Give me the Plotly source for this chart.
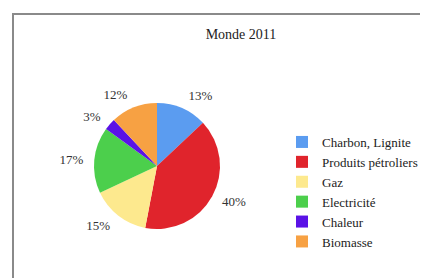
import plotly.graph_objects as go

labels = ["Charbon, Lignite", "Produits pétroliers", "Gaz", "Electricité", "Chaleur", "Biomasse"]
values = [13, 40, 15, 17, 3, 12]
colors = ["#5b9cf0", "#e0242c", "#fde98e", "#4ccf4c", "#5a12e6", "#f7a143"]
title = "Monde 2011"

# page has an 8px body margin; figure is sized to fit the window
OFF = 8
W, H = 420, 270
cx, cy, r = 157 - OFF, 166 - OFF, 63
rl = 70  # radius used for placing the outside percentage labels


def dom(rad):
    return dict(x=[(cx - rad) / W, (cx + rad) / W], y=[(H - cy - rad) / H, (H - cy + rad) / H])


fig = go.Figure()
fig.add_trace(go.Pie(
    labels=labels,
    values=values,
    sort=False,
    direction="clockwise",
    rotation=0,
    marker=dict(colors=colors, line=dict(width=0)),
    textinfo="none",
    domain=dom(r),
    hoverinfo="label+percent",
))
fig.add_trace(go.Pie(
    labels=labels,
    values=values,
    sort=False,
    direction="clockwise",
    rotation=0,
    marker=dict(colors=["rgba(0,0,0,0)"] * len(values), line=dict(width=0)),
    textposition="outside",
    texttemplate="%{value}%",
    textfont=dict(family="Liberation Serif", size=13, color="#333333"),
    domain=dom(rl),
    hoverinfo="skip",
    showlegend=False,
))

fig.update_layout(
    width=W, height=H,
    margin=dict(l=0, r=0, t=0, b=0, autoexpand=False),
    paper_bgcolor="white",
    plot_bgcolor="white",
    title=dict(text=title, x=(241 - OFF) / W, xanchor="center", y=1 - (34 - OFF) / H, yanchor="middle",
               font=dict(family="Liberation Serif", size=14, color="#222222")),
    showlegend=True,
    legend=dict(x=(322 - OFF - 40) / W, xanchor="left", y=1 - 119 / H, yanchor="top",
                itemwidth=30,
                font=dict(family="Liberation Serif", size=13, color="#222222"),
                bgcolor="rgba(0,0,0,0)"),
    shapes=[dict(type="rect", xref="paper", yref="paper",
                 x0=(13 - OFF) / W, x1=1.05, y0=-0.05, y1=1 - (14 - OFF) / H,
                 line=dict(color="#8a8a8a", width=2))],
)

fig.write_html("out.html")
